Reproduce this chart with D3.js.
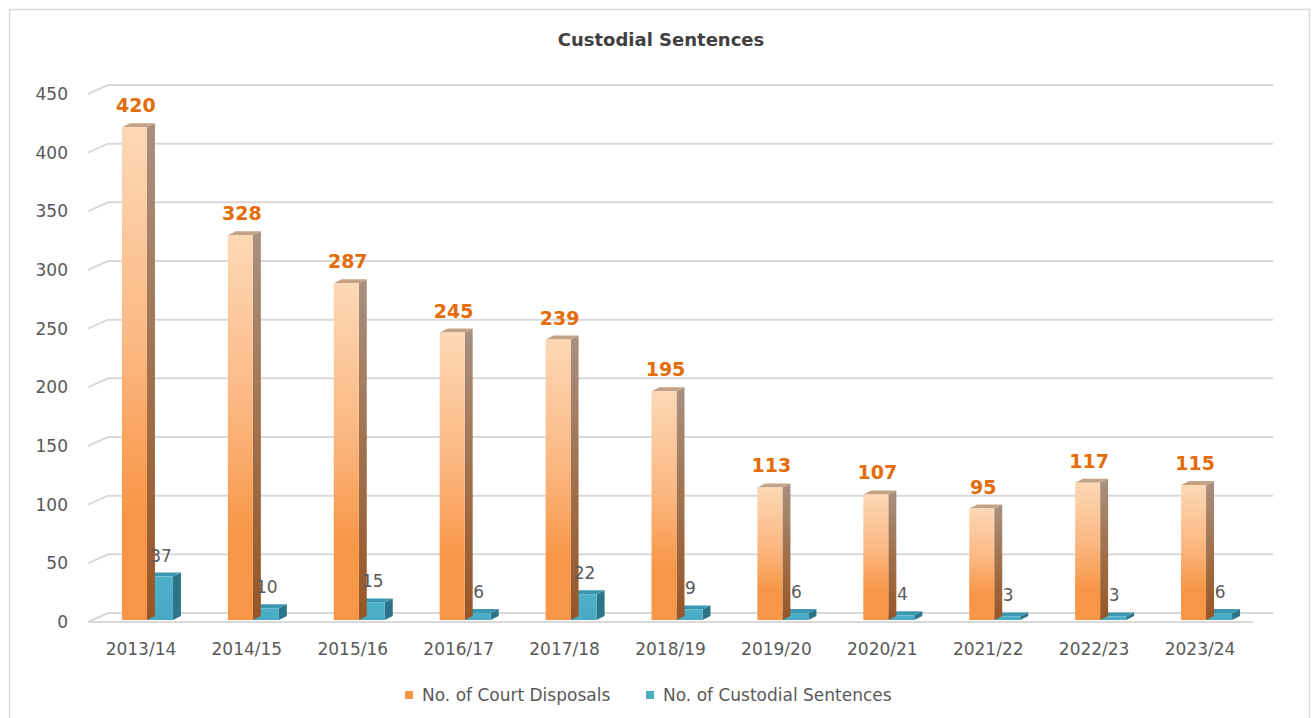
<!DOCTYPE html>
<html>
<head>
<meta charset="utf-8">
<script src="https://cdn.jsdelivr.net/npm/d3@7"></script>
<style>
  html, body { margin: 0; padding: 0; background: #ffffff; }
  svg { display: block; }
</style>
</head>
<body>
<svg id="chart" width="1314" height="718"></svg>
<script>
// ---- data ----
const categories = ["2013/14","2014/15","2015/16","2016/17","2017/18","2018/19","2019/20","2020/21","2021/22","2022/23","2023/24"];
const courtDisposals = [420, 328, 287, 245, 239, 195, 113, 107, 95, 117, 115];
const custodialSentences = [37, 10, 15, 6, 22, 9, 6, 4, 3, 3, 6];
const yTicks = [0, 50, 100, 150, 200, 250, 300, 350, 400, 450];
const seriesNames = ["No. of Court Disposals", "No. of Custodial Sentences"];
const chartTitle = "Custodial Sentences";

// ---- layout ----
const W = 1314, H = 718;
const plotLeft = 88, plotRight = 1253, floorY = 622, topY = 94;
const wallDx = 20, wallDy = -9;       // back wall offset
const barDx = 8, barDy = -4;          // bar depth
const barLift = -2;                   // bars sit slightly behind front plane

const svg = d3.select("#chart");
const defs = svg.append("defs");

function grad(id, stops) {
  const g = defs.append("linearGradient").attr("id", id)
    .attr("x1", 0).attr("y1", 0).attr("x2", 0).attr("y2", 1);
  stops.forEach(s => g.append("stop").attr("offset", s[0]).attr("stop-color", s[1]));
}
grad("orFront", [[0, "#fdd8b5"], [0.45, "#fbb781"], [0.78, "#f79646"], [1, "#f79646"]]);
grad("orSide", [[0, "#a89080"], [0.5, "#a0714c"], [1, "#985527"]]);
grad("blFront", [[0, "#4eb0c9"], [1, "#47a9c3"]]);

// frame
svg.append("rect").attr("x", 9.5).attr("y", 9.5).attr("width", 1300).attr("height", 730)
  .attr("fill", "#ffffff").attr("stroke", "#d9d9d9").attr("stroke-width", 1.5);

const x = d3.scaleBand().domain(categories).range([plotLeft, plotRight]).paddingInner(0).paddingOuter(0);
const y = d3.scaleLinear().domain([0, 450]).range([floorY, topY]);

// title
svg.append("text").attr("x", 661).attr("y", 46).attr("text-anchor", "middle")
  .attr("font-family", "DejaVu Sans").attr("font-weight", "bold").attr("font-size", 18)
  .attr("fill", "#404040").text(chartTitle);

// gridlines (back wall + left slant)
const grid = svg.append("g").attr("stroke", "#d9d9d9").attr("stroke-width", 2).attr("fill", "none");
yTicks.forEach(v => {
  grid.append("path").attr("d",
    `M${plotLeft},${y(v)} L${plotLeft + wallDx},${y(v) + wallDy} L${plotRight + wallDx},${y(v) + wallDy}`);
});
// floor front edge
grid.append("line").attr("x1", plotLeft).attr("x2", plotRight).attr("y1", floorY).attr("y2", floorY);

// y axis labels
svg.append("g").selectAll("text").data(yTicks).join("text")
  .attr("x", 68).attr("y", d => y(d)).attr("dy", "0.36em").attr("text-anchor", "end")
  .attr("font-family", "DejaVu Sans").attr("font-size", 17).attr("fill", "#595959")
  .text(d => d);

// x axis labels
svg.append("g").selectAll("text").data(categories).join("text")
  .attr("x", d => x(d) + x.bandwidth() / 2).attr("y", 655).attr("text-anchor", "middle")
  .attr("font-family", "DejaVu Sans").attr("font-size", 17).attr("fill", "#595959")
  .text(d => d);

// 3D bars
function bar3d(g, x0, w, v, front, side, top) {
  const yb = y(0) + barLift, yt = y(v) + barLift;
  g.append("path").attr("d",
    `M${x0 + w},${yt} L${x0 + w + barDx},${yt + barDy} L${x0 + w + barDx},${yb + barDy} L${x0 + w},${yb} Z`)
    .attr("fill", side);
  g.append("path").attr("d",
    `M${x0},${yt} L${x0 + barDx},${yt + barDy} L${x0 + w + barDx},${yt + barDy} L${x0 + w},${yt} Z`)
    .attr("fill", top);
  g.append("rect").attr("x", x0).attr("y", yt).attr("width", w).attr("height", yb - yt)
    .attr("fill", front);
}

const bars = svg.append("g");
categories.forEach((c, i) => {
  const cx = x(c) + x.bandwidth() / 2;
  const g = bars.append("g");
  bar3d(g, cx + 6, 26, custodialSentences[i], "url(#blFront)", "#2c7488", "#3b98b0");
  bar3d(g, cx - 19, 25, courtDisposals[i], "url(#orFront)", "url(#orSide)", "#c4a286");
});

// labels
const labels = svg.append("g");
categories.forEach((c, i) => {
  const cx = x(c) + x.bandwidth() / 2;
  labels.append("text").attr("x", cx - 5).attr("y", y(courtDisposals[i]) + barLift - 15)
    .attr("text-anchor", "middle").attr("font-family", "DejaVu Sans").attr("font-weight", "bold")
    .attr("font-size", 19).attr("fill", "#e46c0a").text(courtDisposals[i]);
  labels.append("text").attr("x", cx + 20).attr("y", y(custodialSentences[i]) + barLift - 15)
    .attr("text-anchor", "middle").attr("font-family", "DejaVu Sans")
    .attr("font-size", 17).attr("fill", "#595959").text(custodialSentences[i]);
});

// legend
const legend = svg.append("g");
const legendItems = [
  { name: seriesNames[0], color: "#f79646", sx: 405, tx: 422 },
  { name: seriesNames[1], color: "#4bacc6", sx: 646, tx: 663 }
];
legendItems.forEach(it => {
  legend.append("rect").attr("x", it.sx).attr("y", 691).attr("width", 8).attr("height", 8)
    .attr("fill", it.color);
  legend.append("text").attr("x", it.tx).attr("y", 695).attr("dy", "0.36em")
    .attr("font-family", "DejaVu Sans").attr("font-size", 17).attr("fill", "#595959")
    .text(it.name);
});
</script>
</body>
</html>
